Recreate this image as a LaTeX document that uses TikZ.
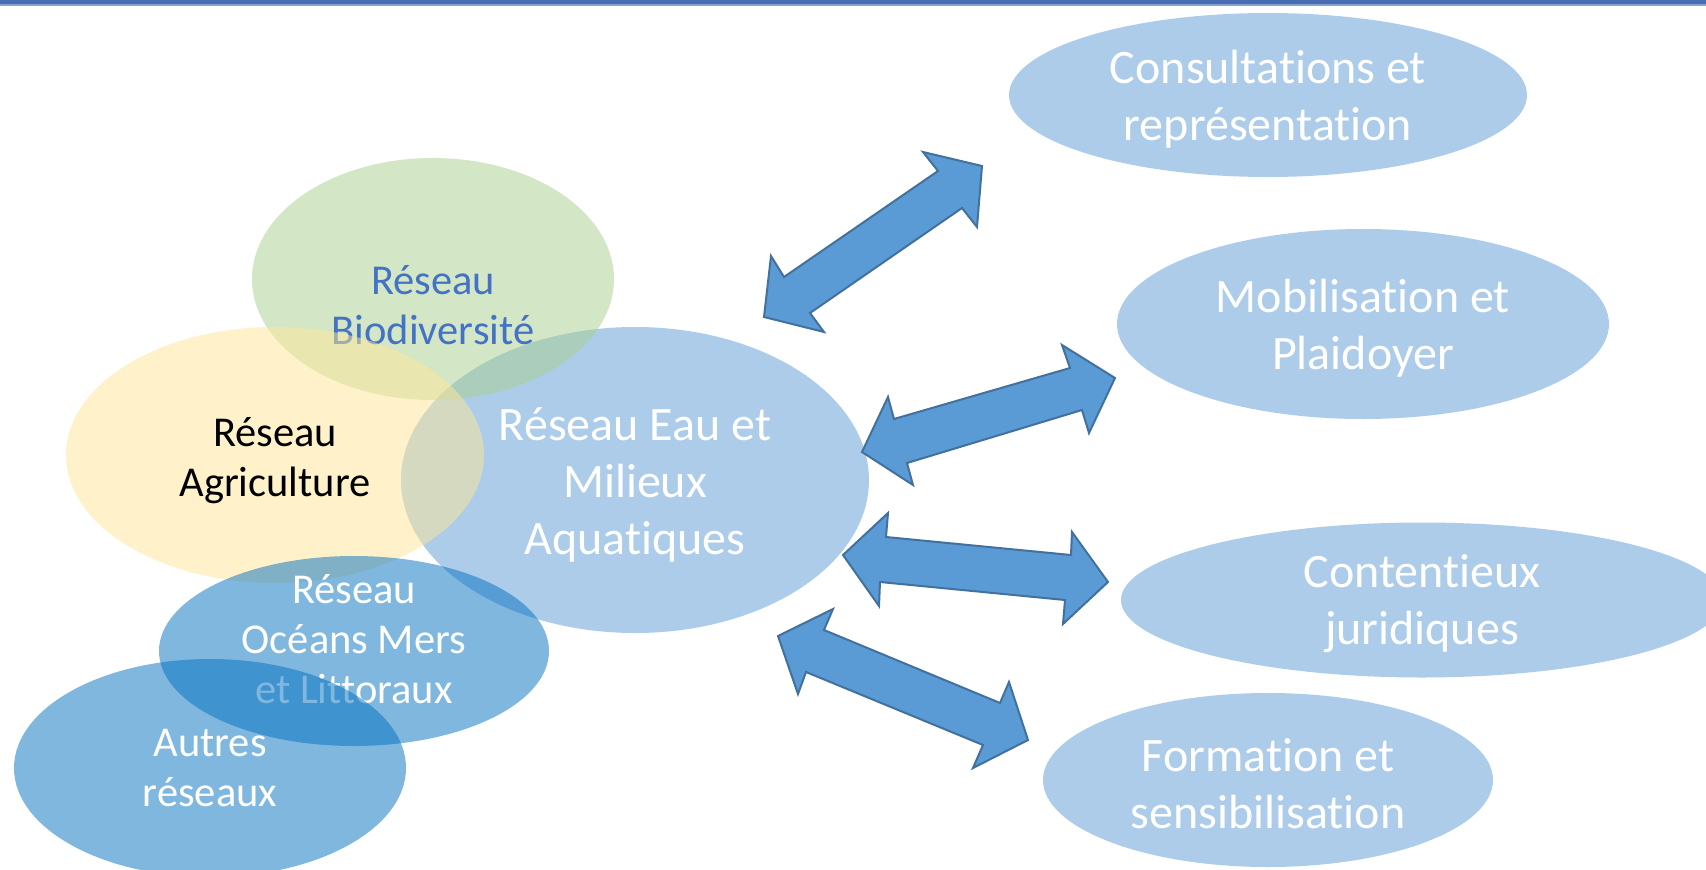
\documentclass[tikz,border=0pt]{standalone}
\usepackage{fontspec}
\setmainfont[RawFeature=-liga]{Carlito}
\usetikzlibrary{shapes.geometric}
\definecolor{barblue}{HTML}{4A6CB3}
\definecolor{barlight}{HTML}{7FA4D4}
\definecolor{eaublue}{HTML}{5B9BD5}
\definecolor{biogreen}{HTML}{A9D18E}
\definecolor{agriyellow}{HTML}{FFE699}
\definecolor{oceanblue}{HTML}{0070C0}
\definecolor{arrowfill}{HTML}{5B9BD5}
\definecolor{arrowline}{HTML}{41719C}
\definecolor{biotext}{HTML}{4472C4}
\tikzset{
  oval/.style={ellipse, inner sep=0pt, draw=none, fill opacity=0.5, text opacity=1},
  bigtxt/.style={align=center, text=white, font=\fontsize{48}{57}\selectfont},
  smalltxt/.style={align=center, text=white, font=\fontsize{42.5}{50}\selectfont},
  blockarrow/.style={fill=arrowfill, draw=arrowline, line width=2pt, line join=miter}
}
\begin{document}
\begin{tikzpicture}[x=1pt,y=-1pt]
\useasboundingbox (0,0) rectangle (1706,870);
\fill[white] (0,0) rectangle (1706,870);
% top bar
\fill[barlight] (0,0) rectangle (1706,5.5);
\fill[barblue] (0,0) rectangle (1706,3.5);

% right ellipses
\node[oval, fill=eaublue, minimum width=518pt, minimum height=164pt] (cons) at (1268,95) {};
\node[bigtxt] (consT) at (1268,99) {Consultations et\\représentation};
\node[oval, fill=eaublue, minimum width=492pt, minimum height=190pt] (mob) at (1363,324) {};
\node[bigtxt] (mobT) at (1363,328) {Mobilisation et\\Plaidoyer};
\node[oval, fill=eaublue, minimum width=602pt, minimum height=155pt] (cont) at (1422,600) {};
\node[bigtxt] (contT) at (1422,604) {Contentieux\\juridiques};
\node[oval, fill=eaublue, minimum width=450pt, minimum height=174pt] (form) at (1268,780) {};
\node[bigtxt] (formT) at (1268,784) {Formation et\\sensibilisation};

% left cluster
\node[oval, fill=eaublue, minimum width=468pt, minimum height=306pt] (eau) at (635,480) {};
\node[bigtxt] (eauT) at (635,485) {Réseau Eau et\\Milieux\\Aquatiques};
\node[oval, fill=biogreen, minimum width=362pt, minimum height=242pt] (bio) at (433,279) {};
\node[smalltxt, text=biotext] (bioT) at (433,305) {Réseau\\Biodiversité};
\node[oval, fill=agriyellow, minimum width=418pt, minimum height=256pt] (agri) at (275,455) {};
\node[smalltxt, text=black] (agriT) at (275,461) {Réseau\\Agriculture};
\node[oval, fill=oceanblue, minimum width=390pt, minimum height=190pt] (ocean) at (354,651) {};
\node[smalltxt] (oceanT) at (354,639) {Réseau\\Océans Mers\\et Littoraux};
\node[oval, fill=oceanblue, minimum width=392pt, minimum height=218pt] (autres) at (210,768) {};
\node[smalltxt] (autresT) at (210,768) {Autres\\réseaux};

% block arrows
\draw[blockarrow] (982,166) -- (923,152) -- (938,171) -- (784,277) -- (771,256) -- (764,317)
  -- (824,332) -- (810,313) -- (962,208) -- (977,227) -- cycle;
\draw[blockarrow] (1115,378) -- (1062,345) -- (1070,368) -- (894,419) -- (888,397) -- (862,452)
  -- (913,485) -- (907,463) -- (1082,410) -- (1089,433) -- cycle;
\draw[blockarrow] (843,555) -- (888,513) -- (886,537) -- (1071,555) -- (1072,532) -- (1108,582)
  -- (1063,624) -- (1065,600) -- (880,582) -- (879,606) -- cycle;
\draw[blockarrow] (778,636) -- (833,609) -- (824,630) -- (1000,703) -- (1009,682) -- (1028,740)
  -- (973,768) -- (983,745) -- (806,672) -- (798,694) -- cycle;
\end{tikzpicture}
\end{document}
